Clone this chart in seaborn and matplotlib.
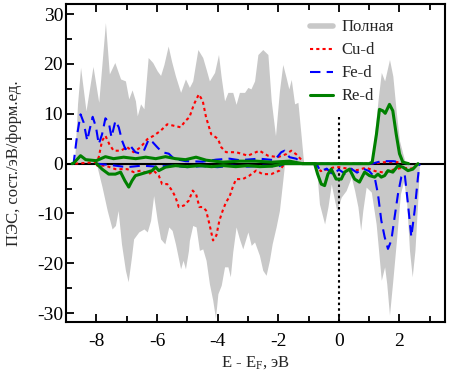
import numpy as np
import pandas as pd
import matplotlib
matplotlib.use("Agg")
import matplotlib.pyplot as plt
from matplotlib.lines import Line2D
import seaborn as sns

# ---------------- data ----------------
total_up_E = [-8.72, -8.62, -8.52, -8.34, -8.11, -7.92, -7.70, -7.57, -7.39, -7.20, -7.04, -6.93, -6.82,
              -6.71, -6.65, -6.54, -6.43, -6.29, -6.14, -5.99, -5.88, -5.77, -5.63, -5.52, -5.39, -5.22,
              -5.06, -4.93, -4.82, -4.65, -4.49, -4.38, -4.27, -4.10, -3.97, -3.88, -3.77, -3.66, -3.50,
              -3.39, -3.28, -3.11, -3.00, -2.90, -2.78, -2.67, -2.51, -2.34, -2.23, -2.09, -1.96, -1.85,
              -1.74, -1.65, -1.57, -1.46, -1.35, -1.24, -1.16, 1.07, 1.18, 1.29, 1.40, 1.51, 1.67, 1.78,
              1.89, 2.00, 2.11, 2.20]
total_up = [0, 12, 19.3, 10.6, 19.5, 12.3, 28.3, 18, 20.3, 17, 16.6, 13, 14.8,
            12.6, 9.6, 12, 11, 21.3, 20.3, 18.6, 17.7, 19.9, 23.6, 20.6, 17.6, 14.3,
            17, 15.3, 16.6, 22.9, 21.3, 19, 16.6, 18.3, 21.9, 17.3, 12.6, 14.3, 14.3,
            11.9, 14.3, 14.3, 15.3, 15, 16.6, 21.9, 22.9, 21.9, 12.6, 5.6, 14.6, 19.9,
            17.3, 15, 16.9, 12, 12.3, 5.3, 0, 0, 6, 12.6, 18.3, 16.6, 20.9, 17.6,
            10.6, 4.6, 2, 0]

total_dn_E = [-8.00, -7.81, -7.64, -7.48, -7.37, -7.28, -7.17, -7.04, -6.95, -6.84, -6.77, -6.60, -6.43,
              -6.32, -6.21, -6.11, -5.99, -5.88, -5.74, -5.61, -5.50, -5.39, -5.22, -5.14, -5.06, -4.96,
              -4.93, -4.82, -4.71, -4.60, -4.49, -4.38, -4.27, -4.16, -4.07, -3.99, -3.88, -3.77, -3.66,
              -3.58, -3.50, -3.39, -3.28, -3.17, -3.00, -2.89, -2.78, -2.62, -2.51, -2.40, -2.29, -2.20,
              -2.07, -1.96, -1.85, -1.79, -0.75, -0.64, -0.47, -0.36, -0.25, -0.14, -0.07, 0.08, 0.24,
              0.41, 0.52, 0.63, 0.72, 0.79, 0.90, 1.07, 1.23, 1.34, 1.40, 1.51, 1.58, 1.67, 1.78, 1.91,
              2.03, 2.14, 2.24, 2.33, 2.42, 2.51, 2.61, 2.66]
total_dn = [0, -4.7, -9.4, -13.1, -12.4, -9.4, -16.1, -21.4, -23.7, -18.7, -15.1, -13.7, -13.1,
            -13.7, -11.4, -6.4, -11.4, -15.1, -16.1, -12.7, -13.4, -16.1, -21.1, -19.4, -21.1, -17.4,
            -15.4, -12.4, -12.7, -17.4, -17.1, -19.4, -24.1, -27.4, -31, -26.1, -24.4, -20.7, -20.7,
            -22.7, -17.7, -12.7, -15.1, -17.1, -13.7, -16.4, -15.7, -18.4, -21.4, -22.4, -19.4, -16.1,
            -12.7, -9.4, -3.4, 0, 0, -8.1, -12.1, -8.7, -4.1, -7.4, -9.4, -6.7, -5.4,
            -2.7, -5.4, -8.7, -13.4, -9.4, -4.7, -5.7, -12.1, -19.4, -23.4, -20.7, -24.1, -30.4, -23.4, -14.7,
            -6.1, -3.4, -8.1, -17.4, -22.7, -17.4, -6.7, 0]

cu_up_E = [-8.7, -8.0, -7.92, -7.81, -7.70, -7.57, -7.43, -7.20, -6.98, -6.77, -6.54, -6.32, -6.11, -5.88,
           -5.66, -5.44, -5.22, -5.06, -4.93, -4.78, -4.62, -4.49, -4.38, -4.21, -3.99, -3.88, -3.72,
           -3.39, -3.00, -2.62, -2.34, -2.01, -1.74, -1.57, -1.41, -1.24, -1.17, 1.1, 1.5, 2.0, 2.3]
cu_up = [0, 0.3, 1.3, 4.6, 5.6, 3.9, 2.6, 2.6, 3.3, 2.3, 3.3, 4.9, 5.6, 6.6,
         7.9, 7.6, 7.3, 8.6, 9.3, 11.9, 13.9, 12.6, 9.3, 5.9, 5.0, 3.3, 2.3,
         2.3, 1.6, 2.6, 1.6, 1.3, 1.9, 2.6, 1.9, 0.8, 0, 0, 0.3, 0.3, 0]

cu_dn_E = [-8.0, -7.97, -7.7, -7.37, -6.98, -6.77, -6.54, -6.27, -6.11, -5.94, -5.83, -5.66, -5.50, -5.39,
           -5.28, -5.11, -4.95, -4.82, -4.71, -4.60, -4.49, -4.38, -4.27, -4.15, -4.04, -3.94, -3.83,
           -3.72, -3.61, -3.50, -3.39, -3.17, -2.95, -2.73, -2.51, -2.23, -1.96, -1.79, -0.75, -0.6,
           -0.4, -0.2, 0.0, 0.3, 0.6, 0.9, 1.2, 1.5, 1.8, 2.1, 2.4, 2.6]
cu_dn = [0, -0.4, -0.4, -1.1, -1.1, -1.7, -1.4, -2.1, -1.4, -2.4, -4.1, -4.1, -5.4, -6.7,
         -8.7, -8.4, -7.4, -5.4, -6.1, -8.7, -8.7, -9.4, -12.1, -15.4, -14.4, -11.4, -9.4,
         -7.7, -6.7, -4.7, -3.1, -3.1, -2.4, -1.4, -2.1, -2.1, -1.4, 0, 0, -1.5,
         -1.2, -0.8, -0.7, -1.0, -1.3, -0.8, -1.5, -1.8, -1.2, -0.8, -1.0, 0]

fe_up_E = [-8.8, -8.75, -8.63, -8.52, -8.42, -8.30, -8.23, -8.12, -8.01, -7.92, -7.81, -7.70, -7.59,
           -7.50, -7.37, -7.26, -7.15, -7.04, -6.88, -6.71, -6.54, -6.43, -6.27, -6.14, -5.99, -5.83,
           -5.61, -5.44, -5.06, -4.5, -4.05, -3.61, -3.28, -2.62, -2.12, -1.90, -1.79, -1.63, -1.41,
           -1.24, -1.15, 1.1, 1.4, 1.8, 2.1, 2.3]
fe_up = [0, 0, 5.9, 9.9, 8.3, 4.6, 6.6, 9.4, 7.3, 3.9, 5.9, 9.1, 8.3,
         5.3, 8.6, 7.3, 4.6, 2.9, 3.6, 2.3, 2.0, 2.6, 4.9, 4.3, 3.3, 2.3,
         2.0, 1.0, 0.5, 0.4, 0.8, 1.0, 0.7, 1.0, 0.7, 2.3, 2.6, 1.3, 1.0,
         0.3, 0, 0, 0.5, 0.5, 0.2, 0]

fe_dn_E = [-8.0, -7.5, -7.0, -6.5, -6.0, -5.5, -5.0, -4.5, -4.0, -3.5, -3.0, -2.5, -2.0, -1.79, -0.75,
           -0.6, -0.4, -0.2, 0.0, 0.2, 0.4, 0.6, 0.8, 1.0, 1.18, 1.29, 1.40, 1.51, 1.62, 1.73, 1.84,
           1.95, 2.06, 2.17, 2.28, 2.39, 2.50, 2.61, 2.66]
fe_dn = [0, -0.3, -0.7, -0.4, -0.6, -0.4, -0.7, -0.5, -0.7, -0.4, -0.6, -0.4, -0.6, 0, 0,
         -1.5, -1.0, -2.2, -1.2, -2.0, -1.0, -1.8, -1.0, -1.5, -2.7, -6.1, -11.4, -14.7, -17.1, -15.4, -10.7,
         -6.1, -2.7, -2.0, -8.1, -14.7, -9.4, -2.7, 0]

re_up_E = [-8.8, -8.75, -8.52, -8.35, -8.0, -7.7, -7.43, -7.1, -6.7, -6.37, -6.04, -5.72, -5.39, -5.06,
           -4.71, -4.38, -3.83, -3.28, -2.73, -2.2, -1.63, -1.2, 1.0, 1.1, 1.24, 1.34, 1.45, 1.53, 1.67,
           1.78, 1.89, 2.0, 2.11, 2.3]
re_up = [0, 0.1, 1.6, 0.8, 0.6, 1.4, 1.0, 1.3, 1.0, 1.3, 1.0, 1.4, 1.0, 0.8,
         1.3, 0.7, 0.3, 0.5, 0.5, 0.3, 0.5, 0, 0, 0.3, 5.9, 10.9, 10.6, 10.1, 11.9,
         10.6, 6.0, 2.0, 0.3, 0]

re_dn_E = [-8.0, -7.97, -7.81, -7.59, -7.37, -7.2, -7.06, -6.93, -6.82, -6.71, -6.54, -6.32, -6.16, -6.04,
           -5.94, -5.72, -5.39, -5.0, -4.6, -4.2, -3.8, -3.4, -3.0, -2.6, -2.2, -1.79, -0.80, -0.70,
           -0.58, -0.47, -0.36, -0.25, -0.09, 0.08, 0.19, 0.35, 0.52, 0.68, 0.85, 1.01, 1.18, 1.29, 1.40,
           1.51, 1.62, 1.78, 1.95, 2.11, 2.28, 2.44, 2.61]
re_dn = [0, -0.1, -1.1, -2.1, -2.1, -1.7, -3.4, -4.7, -3.4, -2.4, -2.1, -1.7, -1.4, -0.7,
         -1.4, -0.7, -0.4, -0.6, -0.4, -0.6, -0.4, -0.6, -0.4, -0.6, -0.5, 0, 0, -2.1,
         -4.1, -4.4, -2.1, -1.1, -3.1, -3.1, -1.7, -1.1, -3.1, -3.7, -1.7, -2.4, -2.7, -2.1, -2.7,
         -2.4, -1.4, -1.7, -0.4, -0.7, -1.4, -1.1, 0]

legend_labels = ["Полная", "Cu-d", "Fe-d", "Re-d"]
x_label = "E - E$_\\mathrm{F}$, эВ"
y_label = "ПЭС, сост./эВ/форм.ед."
x_limits = (-9.0, 3.5)
y_limits = (-31.8, 32.0)
fermi_top = 10.0

# ---------------- style ----------------
sns.set_style("ticks")
plt.rcParams["font.family"] = ["Liberation Serif", "DejaVu Serif"]
plt.rcParams["mathtext.fontset"] = "custom"
plt.rcParams["mathtext.rm"] = "Liberation Serif"
plt.rcParams["mathtext.it"] = "Liberation Serif:italic"
plt.rcParams["axes.unicode_minus"] = False

fig = plt.figure(figsize=(4.49, 3.79), dpi=100)
ax = fig.add_axes([0.147, 0.150, 0.844, 0.839])

GRAY = "#c8c8c8"
RED = "#ff0000"
BLUE = "#0000ff"
GREEN = "#008000"

ax.fill_between(total_up_E, total_up, 0, color=GRAY, lw=0, zorder=1)
ax.fill_between(total_dn_E, total_dn, 0, color=GRAY, lw=0, zorder=1)

ax.axhline(0, color="black", lw=1.5, zorder=2)
frac_top = (fermi_top - y_limits[0]) / (y_limits[1] - y_limits[0])
ax.axvline(0, ymin=0, ymax=frac_top, color="black", lw=1.5, ls=(0, (1.2, 1.5)), zorder=2)

def draw(E, D, color, lw, dashes=None):
    df = pd.DataFrame({"E": E, "D": D})
    n0 = len(ax.lines)
    sns.lineplot(data=df, x="E", y="D", ax=ax, color=color, lw=lw, sort=False,
                 estimator=None, zorder=3)
    line = ax.lines[n0]
    if dashes is not None:
        line.set_dashes(dashes)
    return line

draw(cu_up_E, cu_up, RED, 1.5, (1.5, 1.5))
draw(cu_dn_E, cu_dn, RED, 1.5, (1.5, 1.5))
draw(fe_up_E, fe_up, BLUE, 1.5, (5, 3))
draw(fe_dn_E, fe_dn, BLUE, 1.5, (5, 3))
draw(re_up_E, re_up, GREEN, 2.2)
draw(re_dn_E, re_dn, GREEN, 2.2)

ax.set_xlim(*x_limits)
ax.set_ylim(*y_limits)
ax.xaxis.set_major_locator(matplotlib.ticker.MultipleLocator(2))
ax.xaxis.set_minor_locator(matplotlib.ticker.MultipleLocator(1))
ax.yaxis.set_major_locator(matplotlib.ticker.MultipleLocator(10))
ax.yaxis.set_minor_locator(matplotlib.ticker.MultipleLocator(5))
ax.tick_params(axis="both", which="both", direction="in", top=True, right=False,
               width=1.3, colors="black", labelsize=14)
ax.tick_params(axis="both", which="major", length=5.5)
ax.tick_params(axis="both", which="minor", length=4)
ax.tick_params(axis="x", which="major", pad=8)
ax.tick_params(axis="y", which="major", pad=2)
for s in ax.spines.values():
    s.set_linewidth(1.5)
    s.set_color("black")

ax.set_xlabel(x_label, fontsize=12, labelpad=3)
ax.set_ylabel(y_label, fontsize=12, labelpad=11)

handles = [
    Line2D([], [], color=GRAY, lw=4),
    Line2D([], [], color=RED, lw=1.5, dashes=(1.5, 1.5)),
    Line2D([], [], color=BLUE, lw=1.5, dashes=(5, 3)),
    Line2D([], [], color=GREEN, lw=2.2),
]
ax.legend(handles, legend_labels, loc="upper left", bbox_to_anchor=(0.644, 0.952),
          frameon=False, fontsize=12, handlelength=1.4, handletextpad=0.5,
          labelspacing=0.42, borderpad=0, borderaxespad=0)

fig.savefig("out.png", dpi=100)
